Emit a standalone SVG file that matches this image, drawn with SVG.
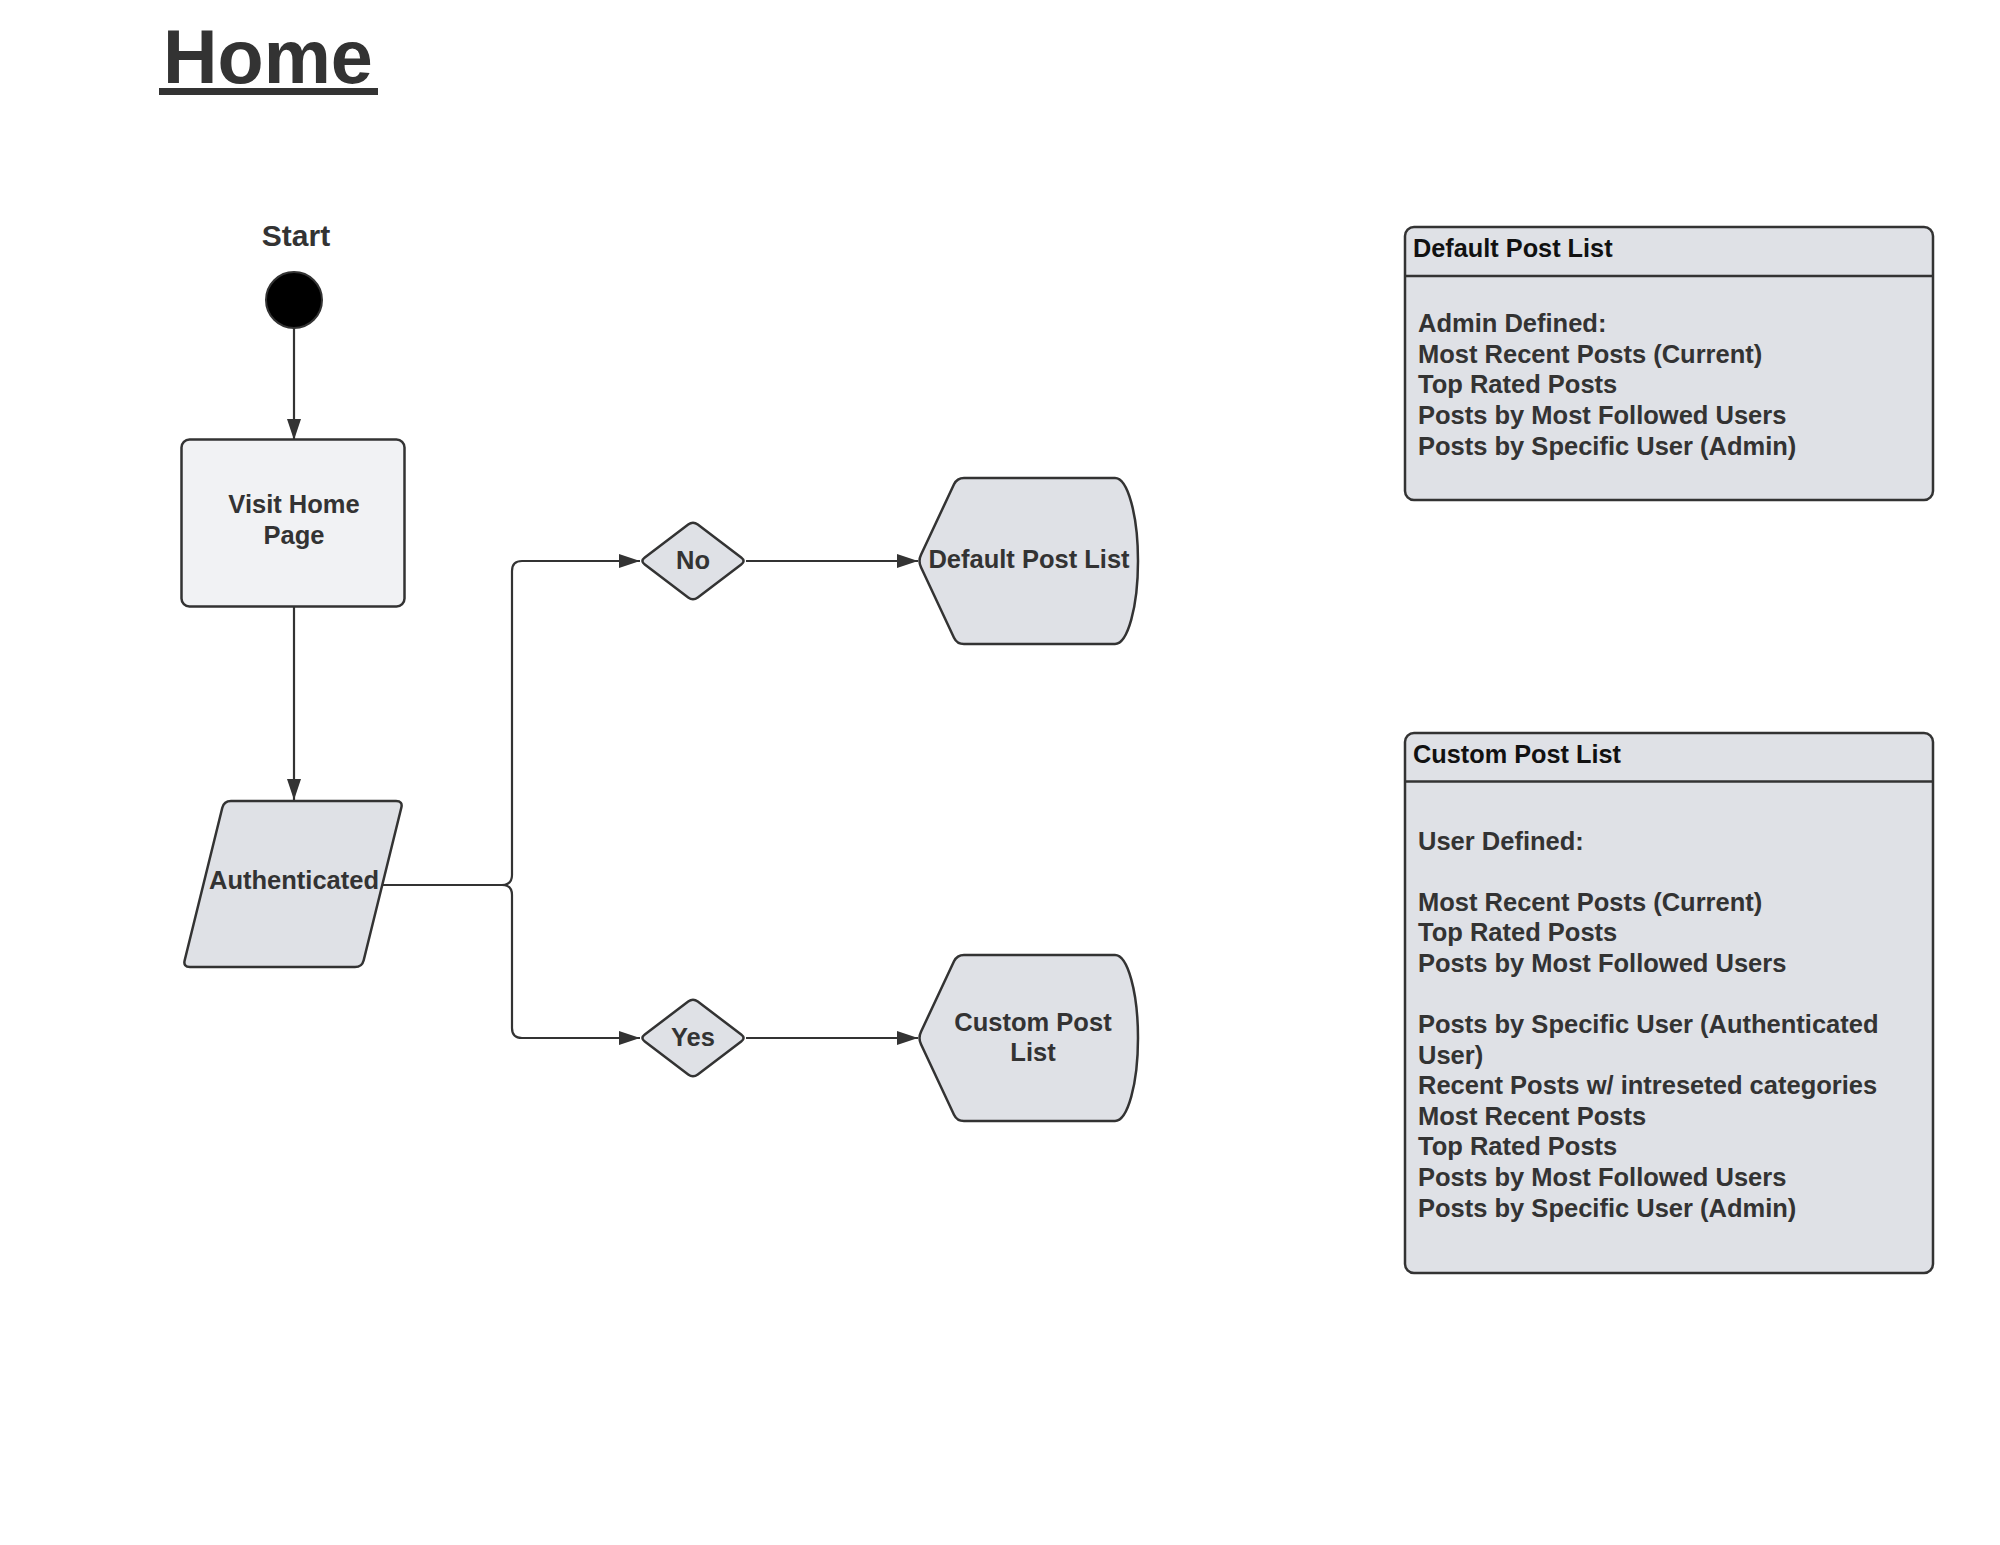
<svg xmlns="http://www.w3.org/2000/svg" width="2000" height="1545" viewBox="0 0 2000 1545">
<style>
.t{font-family:"Liberation Sans",Arial,sans-serif;font-weight:bold;fill:#333333}
.n{font-size:25.5px;text-anchor:middle}
.h{font-size:25.3px;fill:#111111}
.b{font-size:25.5px}
.shape{fill:#dfe1e6;stroke:#333333;stroke-width:2.5}
.conn{fill:none;stroke:#333333;stroke-width:2.2}
</style>
<defs>
<marker id="arr" markerUnits="userSpaceOnUse" markerWidth="21" markerHeight="16" refX="21" refY="8" orient="auto">
<path d="M0,1 L21,8 L0,15 Z" fill="#333333"/>
</marker>
<path id="diamond" d="M-48.2,-3.6 L-4.8,-36.4 Q0,-40 4.8,-36.4 L48.2,-3.6 Q53,0 48.2,3.6 L4.8,36.4 Q0,40 -4.8,36.4 L-48.2,3.6 Q-53,0 -48.2,-3.6 Z"/>
<path id="display" d="M3,-6.3 L36,-76.7 Q39,-83 46,-83 L197,-83 A23,83 0 0 1 197,83 L46,83 Q39,83 36,76.7 L3,6.3 Q0,0 3,-6.3 Z"/>
</defs>
<rect width="2000" height="1545" fill="#ffffff"/>

<g id="title">
<text class="t" x="163" y="83" font-size="75.5">Home</text>
<rect x="159" y="88" width="219" height="7" fill="#333333"/>
</g>

<g id="connectors">
<line class="conn" x1="294" y1="328" x2="294" y2="440" marker-end="url(#arr)"/>
<line class="conn" x1="294" y1="607" x2="294" y2="800" marker-end="url(#arr)"/>
<path class="conn" d="M383,885 H502 Q512,885 512,875 V571 Q512,561 522,561 H640" marker-end="url(#arr)"/>
<path class="conn" d="M383,885 H502 Q512,885 512,895 V1028 Q512,1038 522,1038 H640" marker-end="url(#arr)"/>
<line class="conn" x1="746" y1="561" x2="918" y2="561" marker-end="url(#arr)"/>
<line class="conn" x1="746" y1="1038" x2="918" y2="1038" marker-end="url(#arr)"/>
</g>

<g id="start">
<text class="t" x="296" y="245.5" font-size="30" text-anchor="middle">Start</text>
<circle cx="294" cy="300" r="28" fill="#000000" stroke="#333333" stroke-width="2"/>
</g>

<g id="visit-home-page">
<rect x="181.5" y="439.5" width="223" height="167" rx="8" fill="#f1f2f4" stroke="#333333" stroke-width="2.5"/>
<text class="t n" x="294" y="513">Visit Home</text>
<text class="t n" x="294" y="543.5">Page</text>
</g>

<g id="authenticated">
<path class="shape" d="M231,801 L396,801 Q403,801 401.3,807.8 L363.7,960.2 Q362,967 355,967 L190,967 Q183,967 184.7,960.2 L222.3,807.8 Q224,801 231,801 Z"/>
<text class="t n" x="294" y="888.5">Authenticated</text>
</g>

<g id="no">
<use href="#diamond" class="shape" transform="translate(693,561)"/>
<text class="t n" x="693" y="569">No</text>
</g>

<g id="yes">
<use href="#diamond" class="shape" transform="translate(693,1038)"/>
<text class="t n" x="693" y="1046">Yes</text>
</g>

<g id="default-post-list-node">
<use href="#display" class="shape" transform="translate(918,561)"/>
<text class="t n" x="1029" y="568">Default Post List</text>
</g>

<g id="custom-post-list-node">
<use href="#display" class="shape" transform="translate(918,1038)"/>
<text class="t n" x="1033" y="1031">Custom Post</text>
<text class="t n" x="1033" y="1061">List</text>
</g>

<g id="default-post-list-box">
<rect class="shape" x="1405" y="227" width="528" height="273" rx="9"/>
<line x1="1405" y1="276" x2="1933" y2="276" stroke="#333333" stroke-width="2.5"/>
<text class="t h" x="1413" y="257">Default Post List</text>
<text class="t b" x="1418" y="332">Admin Defined:</text>
<text class="t b" x="1418" y="362.7">Most Recent Posts (Current)</text>
<text class="t b" x="1418" y="393.3">Top Rated Posts</text>
<text class="t b" x="1418" y="424">Posts by Most Followed Users</text>
<text class="t b" x="1418" y="454.6">Posts by Specific User (Admin)</text>
</g>

<g id="custom-post-list-box">
<rect class="shape" x="1405" y="733" width="528" height="540" rx="9"/>
<line x1="1405" y1="781.5" x2="1933" y2="781.5" stroke="#333333" stroke-width="2.5"/>
<text class="t h" x="1413" y="763">Custom Post List</text>
<text class="t b" x="1418" y="849.6">User Defined:</text>
<text class="t b" x="1418" y="910.7">Most Recent Posts (Current)</text>
<text class="t b" x="1418" y="941.3">Top Rated Posts</text>
<text class="t b" x="1418" y="971.9">Posts by Most Followed Users</text>
<text class="t b" x="1418" y="1033">Posts by Specific User (Authenticated</text>
<text class="t b" x="1418" y="1063.6">User)</text>
<text class="t b" x="1418" y="1094.2">Recent Posts w/ intreseted categories</text>
<text class="t b" x="1418" y="1124.8">Most Recent Posts</text>
<text class="t b" x="1418" y="1155.4">Top Rated Posts</text>
<text class="t b" x="1418" y="1186">Posts by Most Followed Users</text>
<text class="t b" x="1418" y="1216.6">Posts by Specific User (Admin)</text>
</g>
</svg>
